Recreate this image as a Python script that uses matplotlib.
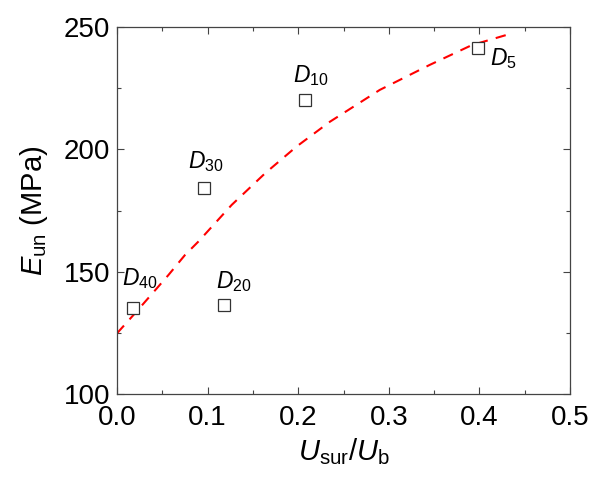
import matplotlib
matplotlib.use("Agg")
import matplotlib.pyplot as plt
from matplotlib.ticker import MultipleLocator, FormatStrFormatter

plt.rcParams['font.family'] = ['Liberation Sans', 'DejaVu Sans']
plt.rcParams['mathtext.fontset'] = 'custom'
plt.rcParams['mathtext.rm'] = 'Liberation Sans'
plt.rcParams['mathtext.it'] = 'Liberation Sans:italic'
plt.rcParams['mathtext.bf'] = 'Liberation Sans:bold'

# Data points
labels = ['5', '10', '20', '30', '40']
x_pts = [0.398, 0.2075, 0.1185, 0.096, 0.0173]
y_pts = [241.3, 220.2, 136.4, 184.1, 135.0]
label_x = [0.412, 0.194, 0.109, 0.0784, 0.005]
label_y = [234.5, 227.5, 143.2, 192.4, 144.6]

# Fitted curve
curve_x = [0.0, 0.0199, 0.0567, 0.075, 0.0898, 0.1266, 0.1634, 0.198,
           0.235, 0.290, 0.345, 0.3915, 0.4356]
curve_y = [124.8, 133.0, 148.6, 156.8, 162.3, 177.3, 190.2, 201.1,
           211.3, 224.3, 234.5, 242.6, 247.4]

fig = plt.figure(figsize=(6.0, 4.79), dpi=100)
ax = fig.add_axes([0.195, 0.1775, 0.755, 0.766])

ax.plot(curve_x, curve_y, color='#ff0000', lw=1.5, dashes=(5, 4))
ax.plot(x_pts, y_pts, linestyle='none', marker='s', markersize=8,
        markerfacecolor='white', markeredgecolor='#333333', markeredgewidth=0.9)

for lab, lx, ly in zip(labels, label_x, label_y):
    ax.text(lx, ly, r'$D_{\mathrm{' + lab + '}}$', fontsize=16.5, ha='left',
            va='baseline', color='black')

ax.set_xlim(0.0, 0.5)
ax.set_ylim(100, 250)
ax.xaxis.set_major_locator(MultipleLocator(0.1))
ax.xaxis.set_minor_locator(MultipleLocator(0.05))
ax.yaxis.set_major_locator(MultipleLocator(50))
ax.yaxis.set_minor_locator(MultipleLocator(25))
ax.xaxis.set_major_formatter(FormatStrFormatter('%.1f'))
ax.yaxis.set_major_formatter(FormatStrFormatter('%d'))

ax.tick_params(which='both', direction='in', top=True, right=True,
               color='#444444', width=0.8)
ax.tick_params(which='major', length=5, labelsize=20)
ax.tick_params(axis='x', which='major', pad=8)
ax.tick_params(axis='y', which='major', pad=5)
ax.tick_params(which='minor', length=3)
for s in ax.spines.values():
    s.set_color('#444444')
    s.set_linewidth(0.9)

ax.set_xlabel(r'$U_{\mathrm{sur}}/U_{\mathrm{b}}$', fontsize=21, labelpad=4)
ax.set_ylabel(r'$E_{\mathrm{un}}$ (MPa)', fontsize=21, labelpad=10)

fig.savefig('out.png', dpi=100)
